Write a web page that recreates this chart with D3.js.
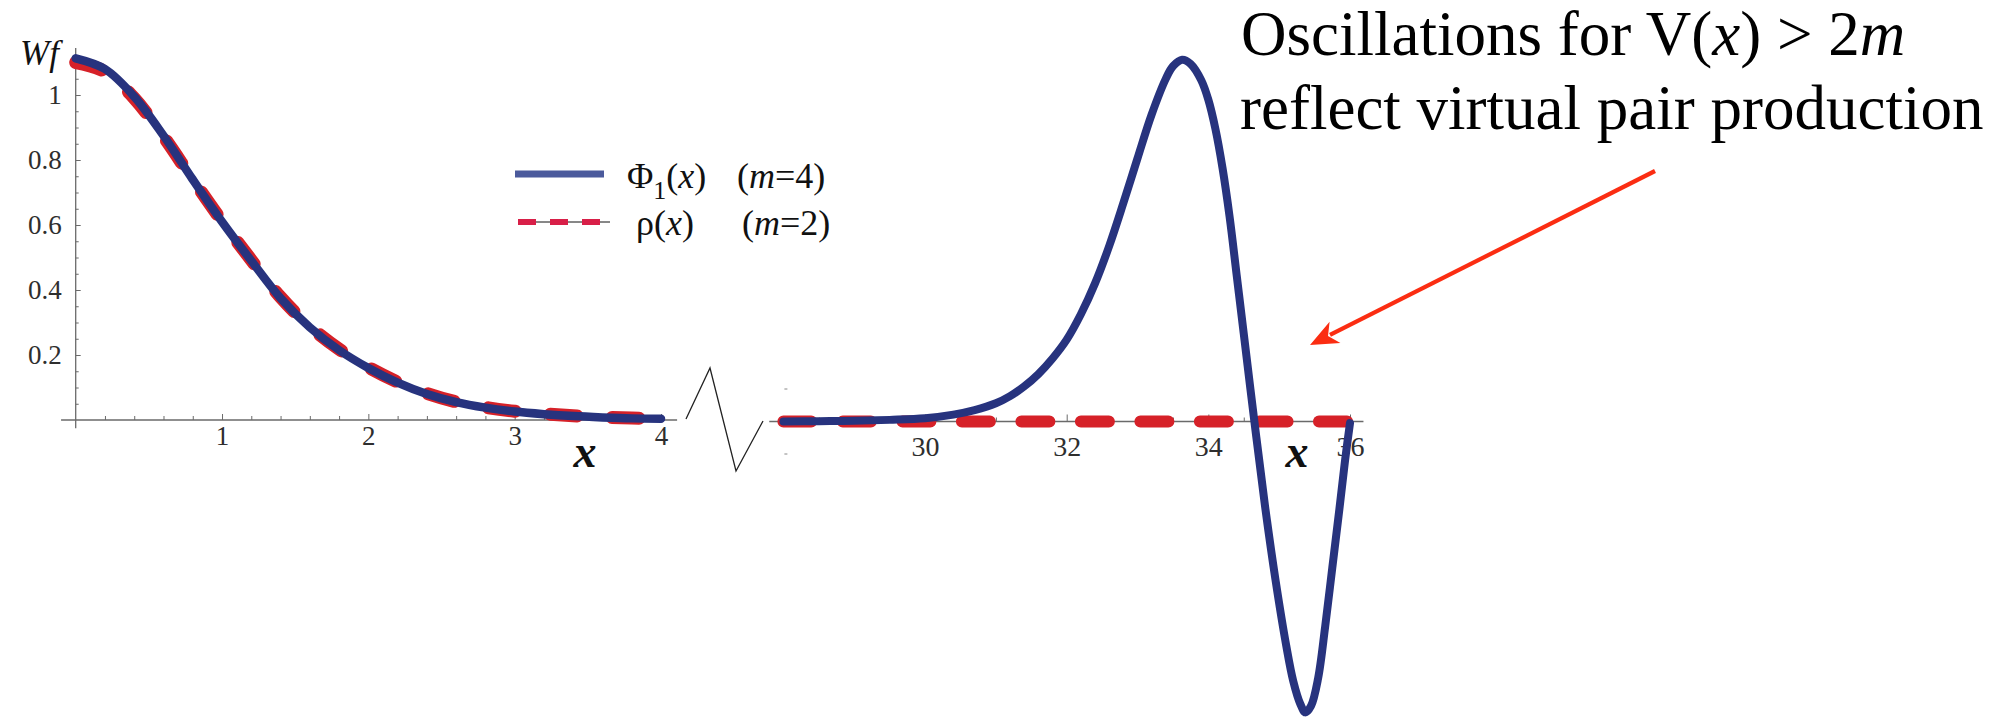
<!DOCTYPE html>
<html>
<head>
<meta charset="utf-8">
<script src="https://cdn.jsdelivr.net/npm/d3@7"></script>
<style>
  html, body { margin: 0; padding: 0; background: #fff; }
  svg { display: block; }
  text { font-family: "Liberation Serif", "Times New Roman", "DejaVu Serif", serif; }
</style>
</head>
<body>
<svg id="chart" width="1995" height="718"></svg>
<script>
// Ground-state wavefunction, near region (0 <= x <= 4)
const xNear = [0, 0.2, 0.4, 0.6, 0.8, 1.0, 1.2, 1.4, 1.6, 1.8, 2.0, 2.2, 2.4, 2.6, 2.8, 3.0, 3.2, 3.4, 3.6, 3.8, 4.0];
const phiNear = [1.113, 1.08, 0.995, 0.875, 0.74, 0.61, 0.49, 0.375, 0.285, 0.215, 0.16, 0.115, 0.08, 0.055, 0.038, 0.026, 0.018, 0.012, 0.008, 0.005, 0.004];
const rhoNear = [1.10, 1.072, 0.99, 0.872, 0.74, 0.612, 0.492, 0.378, 0.288, 0.218, 0.162, 0.117, 0.082, 0.056, 0.039, 0.027, 0.019, 0.013, 0.009, 0.006, 0.004];

// Far region (28 <= x <= 36): Phi_1 oscillates, rho stays at zero
const xFar = [28.0, 28.5, 29.0, 29.5, 30.0, 30.4, 30.7, 31.0, 31.2, 31.4, 31.6, 31.8, 32.0, 32.2, 32.4, 32.6, 32.8, 33.0, 33.2, 33.4, 33.5, 33.63, 33.75, 33.9, 34.0, 34.1, 34.2, 34.3, 34.4, 34.5, 34.65, 34.8, 34.95, 35.1, 35.2, 35.3, 35.37, 35.45, 35.55, 35.65, 35.75, 35.85, 35.93, 36.0];
const phiFar = [0.0, 0.001, 0.002, 0.005, 0.01, 0.021, 0.035, 0.056, 0.078, 0.108, 0.146, 0.194, 0.252, 0.33, 0.425, 0.54, 0.672, 0.81, 0.945, 1.055, 1.093, 1.113, 1.1, 1.05, 0.99, 0.9, 0.78, 0.63, 0.45, 0.27, 0.0, -0.26, -0.49, -0.69, -0.80, -0.87, -0.895, -0.875, -0.79, -0.63, -0.45, -0.27, -0.12, -0.005];
const xFarRho = [28, 30, 32, 34, 36];
const rhoFar = [0, 0, 0, 0, 0];

// Axis ticks
const nearTicks = [1, 2, 3, 4];
const nearTickLabels = ["1", "2", "3", "4"];
const yTicks = [0.2, 0.4, 0.6, 0.8, 1.0];
const yTickLabels = ["0.2", "0.4", "0.6", "0.8", "1"];
const farTicks = [30, 32, 34, 36];
const farTickLabels = ["30", "32", "34", "36"];

const svg = d3.select("#chart");
svg.append("rect").attr("width", 1995).attr("height", 718).attr("fill", "#fff");

const BLUE = "#27337e";
const RED = "#d62128";
const AXIS = "#6a6a6a";
const LABEL = "#2e2e2e";
const SERIF = '"Liberation Serif", "Times New Roman", "DejaVu Serif", serif';

// Scales
const xL = d3.scaleLinear().domain([0, 4]).range([75.7, 661]);
const yL = d3.scaleLinear().domain([0, 1]).range([420, 95]);
const xR = d3.scaleLinear().domain([28, 36]).range([783.4, 1350]);
const yR = d3.scaleLinear().domain([0, 1]).range([421.5, 96.5]);

function styleTicks(g, size) {
  g.select(".domain").remove();
  g.selectAll("line").attr("stroke", AXIS);
  g.selectAll("text")
    .style("font-family", SERIF)
    .style("font-size", size + "px")
    .attr("fill", LABEL);
}

// ---------- near panel axes ----------
const gL = svg.append("g");
gL.append("line")
  .attr("x1", xL(-0.1)).attr("x2", xL(4.11))
  .attr("y1", yL(0)).attr("y2", yL(0))
  .attr("stroke", AXIS).attr("stroke-width", 1.3);
gL.append("line")
  .attr("x1", xL(0)).attr("x2", xL(0))
  .attr("y1", yL(-0.025)).attr("y2", yL(1.145))
  .attr("stroke", AXIS).attr("stroke-width", 1.3);

const minorNearX = d3.range(0.2, 4.0, 0.2).filter(v => Math.abs(v - Math.round(v)) > 1e-6);
gL.append("g").attr("transform", `translate(0,${yL(0)})`)
  .call(d3.axisBottom(xL).tickValues(minorNearX).tickSize(-4).tickFormat(""))
  .call(g => styleTicks(g, 10));
gL.append("g").attr("transform", `translate(0,${yL(0)})`)
  .call(d3.axisBottom(xL).tickValues(nearTicks).tickSize(-6).tickPadding(6)
        .tickFormat((d, i) => nearTickLabels[i]))
  .call(g => styleTicks(g, 27));

const minorY = d3.range(0.05, 1.13, 0.05).filter(v => Math.abs(v * 5 - Math.round(v * 5)) > 1e-6);
gL.append("g").attr("transform", `translate(${xL(0)},0)`)
  .call(d3.axisLeft(yL).tickValues(minorY).tickSize(-3).tickFormat(""))
  .call(g => styleTicks(g, 10));
gL.append("g").attr("transform", `translate(${xL(0)},0)`)
  .call(d3.axisLeft(yL).tickValues(yTicks).tickSize(-5).tickPadding(14)
        .tickFormat((d, i) => yTickLabels[i]))
  .call(g => styleTicks(g, 27));

// ---------- far panel axis ----------
const gR = svg.append("g");
gR.append("line")
  .attr("x1", xR(27.8)).attr("x2", xR(36.19))
  .attr("y1", yR(0)).attr("y2", yR(0))
  .attr("stroke", AXIS).attr("stroke-width", 1.3);
const minorFar = d3.range(28.5, 36, 0.5).filter(v => v % 2 !== 0);
gR.append("g").attr("transform", `translate(0,${yR(0)})`)
  .call(d3.axisBottom(xR).tickValues(minorFar).tickSize(-4).tickFormat(""))
  .call(g => styleTicks(g, 10));
gR.append("g").attr("transform", `translate(0,${yR(0)})`)
  .call(d3.axisBottom(xR).tickValues(farTicks).tickSize(-7).tickPadding(15)
        .tickFormat((d, i) => farTickLabels[i]))
  .call(g => styleTicks(g, 28));
// small stubs of the vertical axis ticks at the left edge of the far panel
gR.selectAll("line.stub").data([0.1, -0.1]).join("line")
  .attr("class", "stub")
  .attr("x1", xR(28) + 1).attr("x2", xR(28) + 4)
  .attr("y1", d => yR(d)).attr("y2", d => yR(d))
  .attr("stroke", "#888").attr("stroke-width", 1);

// axis-break zigzag
svg.append("polyline")
  .attr("points", "686,419 710,368 736,471 763,421")
  .attr("fill", "none").attr("stroke", "#222").attr("stroke-width", 1.3);

// ---------- curves ----------
const lineNear = d3.line().x(d => xL(d[0])).y(d => yL(d[1])).curve(d3.curveCatmullRom.alpha(0.5));
const lineFar = d3.line().x(d => xR(d[0])).y(d => yR(d[1])).curve(d3.curveCatmullRom.alpha(0.5));

svg.append("path")
  .datum(d3.zip(xNear, rhoNear))
  .attr("d", lineNear)
  .attr("fill", "none").attr("stroke", RED).attr("stroke-width", 13)
  .attr("stroke-linecap", "round").attr("stroke-dasharray", "27,35");
svg.append("path")
  .datum(d3.zip(xFarRho, rhoFar))
  .attr("d", lineFar)
  .attr("fill", "none").attr("stroke", RED).attr("stroke-width", 12)
  .attr("stroke-linecap", "round").attr("stroke-dasharray", "28,31.5");

svg.append("path")
  .datum(d3.zip(xNear, phiNear))
  .attr("d", lineNear)
  .attr("fill", "none").attr("stroke", BLUE).attr("stroke-width", 8.5)
  .attr("stroke-linecap", "round");
svg.append("path")
  .datum(d3.zip(xFar, phiFar))
  .attr("d", lineFar)
  .attr("fill", "none").attr("stroke", BLUE).attr("stroke-width", 8)
  .attr("stroke-linecap", "round").attr("stroke-linejoin", "round");

// ---------- axis titles ----------
svg.append("text").attr("x", 20).attr("y", 65)
  .style("font-size", "35px").attr("font-style", "italic").attr("fill", "#111")
  .text("Wf");
svg.append("text").attr("x", 585).attr("y", 467).attr("text-anchor", "middle")
  .style("font-size", "46px").attr("font-style", "italic").attr("font-weight", "bold").attr("fill", "#111")
  .text("x");
svg.append("text").attr("x", 1297).attr("y", 467).attr("text-anchor", "middle")
  .style("font-size", "46px").attr("font-style", "italic").attr("font-weight", "bold").attr("fill", "#111")
  .text("x");

// ---------- legend ----------
const leg = svg.append("g");
leg.append("line").attr("x1", 515).attr("x2", 604).attr("y1", 174).attr("y2", 174)
  .attr("stroke", "#4b5a9c").attr("stroke-width", 7);
leg.append("line").attr("x1", 518).attr("x2", 610).attr("y1", 222).attr("y2", 222)
  .attr("stroke", "#111").attr("stroke-width", 1);
leg.append("line").attr("x1", 518).attr("x2", 604).attr("y1", 222).attr("y2", 222)
  .attr("stroke", "#d81f48").attr("stroke-width", 6).attr("stroke-dasharray", "18,14");

const t1 = leg.append("text").attr("x", 627).attr("y", 188).style("font-size", "36px").attr("fill", "#111");
t1.append("tspan").text("Φ");
t1.append("tspan").style("font-size", "26px").attr("dy", 11).text("1");
t1.append("tspan").attr("dy", -11).text("(");
t1.append("tspan").attr("font-style", "italic").text("x");
t1.append("tspan").text(")");
const t1b = leg.append("text").attr("x", 737).attr("y", 188).style("font-size", "36px").attr("fill", "#111");
t1b.append("tspan").text("(");
t1b.append("tspan").attr("font-style", "italic").text("m");
t1b.append("tspan").text("=4)");

const t2 = leg.append("text").attr("x", 636).attr("y", 235).style("font-size", "36px").attr("fill", "#111");
t2.append("tspan").text("ρ(");
t2.append("tspan").attr("font-style", "italic").text("x");
t2.append("tspan").text(")");
const t2b = leg.append("text").attr("x", 742).attr("y", 235).style("font-size", "36px").attr("fill", "#111");
t2b.append("tspan").text("(");
t2b.append("tspan").attr("font-style", "italic").text("m");
t2b.append("tspan").text("=2)");

// ---------- annotation ----------
const a1 = svg.append("text").attr("x", 1241).attr("y", 55).style("font-size", "63px").attr("fill", "#000");
a1.append("tspan").text("Oscillations for V(");
a1.append("tspan").attr("font-style", "italic").text("x");
a1.append("tspan").text(") > 2");
a1.append("tspan").attr("font-style", "italic").text("m");
svg.append("text").attr("x", 1240).attr("y", 129).style("font-size", "63px").attr("fill", "#000")
  .text("reflect virtual pair production");

// arrow
const ARROW = "#fb2d12";
const tail = [1655, 171], tip = [1310, 345];
const dx = tail[0] - tip[0], dy = tail[1] - tip[1];
const len = Math.hypot(dx, dy), ux = dx / len, uy = dy / len;
const headLen = 28, headHalf = 12;
svg.append("line")
  .attr("x1", tail[0]).attr("y1", tail[1])
  .attr("x2", tip[0] + ux * headLen * 0.8).attr("y2", tip[1] + uy * headLen * 0.8)
  .attr("stroke", ARROW).attr("stroke-width", 4.2);
const bx = tip[0] + ux * headLen, by = tip[1] + uy * headLen;
svg.append("polygon")
  .attr("points", [
    [tip[0], tip[1]],
    [bx - uy * headHalf, by + ux * headHalf],
    [tip[0] + ux * headLen * 0.72, tip[1] + uy * headLen * 0.72],
    [bx + uy * headHalf, by - ux * headHalf]
  ].map(p => p.join(",")).join(" "))
  .attr("fill", ARROW);
</script>
</body>
</html>
